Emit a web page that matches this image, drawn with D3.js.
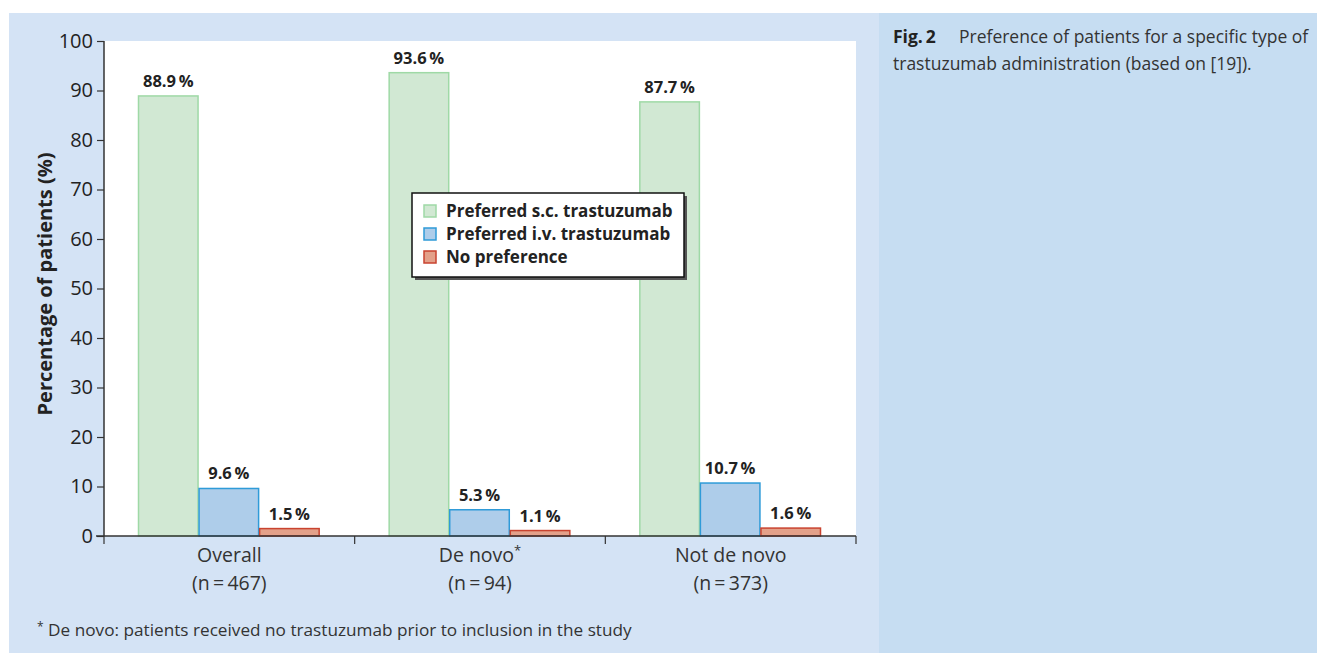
<!DOCTYPE html>
<html>
<head>
    <title>Preference of patients for trastuzumab administration</title>
    <script src="https://d3js.org/d3.v7.min.js"></script>
    <style>
        body {
            margin: 0;
            overflow: hidden;
            background: #fff;
        }
        text {
            font-family: "Open Sans", "Noto Sans", sans-serif;
        }
    </style>
</head>
<body>
    <div id="viz"></div>
    <script>
        // Data
        const categories = ['Overall', 'De novo', 'Not de novo'];
        const sampleSizes = ['(n\u2009=\u2009467)', '(n\u2009=\u200994)', '(n\u2009=\u2009373)'];
        const seriesNames = ['Preferred s.c. trastuzumab', 'Preferred i.v. trastuzumab', 'No preference'];
        const scValues = [88.9, 93.6, 87.7];
        const ivValues = [9.6, 5.3, 10.7];
        const noPrefValues = [1.5, 1.1, 1.6];
        const yTicks = [0, 10, 20, 30, 40, 50, 60, 70, 80, 90, 100];

        const fills = ['#d1e8d3', '#aecdea', '#e3a18a'];
        const strokes = ['#9fd9a6', '#2f9bd8', '#c9432f'];

        const width = 1317, height = 653;
        const svg = d3.select('#viz').append('svg')
            .attr('width', width)
            .attr('height', height);

        // Background panels
        svg.append('rect').attr('x', 879).attr('y', 13).attr('width', width - 879).attr('height', height - 13)
            .attr('fill', '#c6ddf2');
        svg.append('rect').attr('x', 9).attr('y', 13).attr('width', 870).attr('height', height - 13)
            .attr('fill', '#d4e3f5');

        const plot = { left: 104, right: 856, top: 41, bottom: 536 };

        // White plotting area
        svg.append('rect')
            .attr('x', plot.left).attr('y', plot.top)
            .attr('width', plot.right - plot.left).attr('height', plot.bottom - plot.top)
            .attr('fill', '#fff');

        const x0 = d3.scaleBand().domain(categories).range([plot.left, plot.right]).padding(0);
        const x1 = d3.scaleBand().domain(seriesNames)
            .range([34, x0.bandwidth() - 35]).padding(0);
        const y = d3.scaleLinear().domain([0, 100]).range([plot.bottom, plot.top]);

        const rows = categories.map((c, i) => ({
            cat: c,
            values: [scValues[i], ivValues[i], noPrefValues[i]]
        }));

        const groups = svg.append('g').selectAll('g')
            .data(rows)
            .enter().append('g')
            .attr('transform', d => `translate(${x0(d.cat)},0)`);

        groups.selectAll('rect')
            .data(d => d.values.map((v, k) => ({ key: seriesNames[k], k: k, v: v })))
            .enter().append('rect')
            .attr('x', d => x1(d.key) + 0.5)
            .attr('y', d => y(d.v))
            .attr('width', x1.bandwidth() - 1)
            .attr('height', d => y(0) - y(d.v))
            .attr('fill', d => fills[d.k])
            .attr('stroke', d => strokes[d.k])
            .attr('stroke-width', 1.5);

        groups.selectAll('text.val')
            .data(d => d.values.map((v, k) => ({ key: seriesNames[k], v: v })))
            .enter().append('text')
            .attr('class', 'val')
            .attr('x', d => x1(d.key) + x1.bandwidth() / 2)
            .attr('y', d => y(d.v) - 9)
            .attr('text-anchor', 'middle')
            .attr('font-size', 16.5)
            .attr('font-weight', 'bold')
            .attr('fill', '#222')
            .text(d => d.v.toFixed(1) + '\u2009%');

        // Y axis
        const yAxis = svg.append('g')
            .attr('transform', `translate(${plot.left},0)`)
            .call(d3.axisLeft(y).tickValues(yTicks).tickSize(7).tickPadding(4));
        yAxis.select('.domain').attr('stroke', '#333').attr('stroke-width', 1.5)
            .attr('d', `M0,${plot.top}V${plot.bottom}`);
        yAxis.selectAll('.tick line').attr('stroke', '#333').attr('stroke-width', 1.2);
        yAxis.selectAll('.tick text').attr('font-size', 20).attr('fill', '#222');

        // X axis with ticks at band boundaries
        const xAxis = svg.append('g').attr('transform', `translate(0,${plot.bottom})`);
        xAxis.append('line')
            .attr('x1', plot.left - 8).attr('x2', plot.right)
            .attr('stroke', '#333').attr('stroke-width', 1.5);
        const bounds = categories.map(c => x0(c)).concat([plot.right]);
        xAxis.selectAll('line.tk')
            .data(bounds)
            .enter().append('line')
            .attr('class', 'tk')
            .attr('x1', d => d).attr('x2', d => d)
            .attr('y1', 0).attr('y2', 8)
            .attr('stroke', '#333').attr('stroke-width', 1.2);

        const xl = xAxis.selectAll('g.lab')
            .data(categories)
            .enter().append('g')
            .attr('class', 'lab')
            .attr('transform', c => `translate(${x0(c) + x0.bandwidth() / 2},0)`);
        xl.append('text')
            .attr('y', 26)
            .attr('text-anchor', 'middle')
            .attr('font-size', 19.5)
            .attr('fill', '#333')
            .text(c => c)
            .filter(c => c === 'De novo')
            .append('tspan')
            .attr('dy', -7).attr('font-size', 13)
            .text('*');
        xl.append('text')
            .attr('y', 54)
            .attr('text-anchor', 'middle')
            .attr('font-size', 19.5)
            .attr('fill', '#333')
            .text((c, i) => sampleSizes[i]);

        // Y axis title
        svg.append('text')
            .attr('transform', 'translate(52,284) rotate(-90)')
            .attr('text-anchor', 'middle')
            .attr('font-size', 20)
            .attr('font-weight', 'bold')
            .attr('fill', '#222')
            .text('Percentage of patients (%)');

        // Legend
        const lg = svg.append('g').attr('transform', 'translate(412,193)');
        lg.append('rect').attr('x', 3).attr('y', 3).attr('width', 272).attr('height', 84).attr('fill', '#555');
        lg.append('rect').attr('width', 272).attr('height', 84)
            .attr('fill', '#fff').attr('stroke', '#111').attr('stroke-width', 1.5);
        const items = lg.selectAll('g.item')
            .data(seriesNames)
            .enter().append('g')
            .attr('class', 'item')
            .attr('transform', (d, i) => `translate(12,${12 + i * 23})`);
        items.append('rect')
            .attr('width', 12).attr('height', 12)
            .attr('fill', (d, i) => fills[i])
            .attr('stroke', (d, i) => strokes[i])
            .attr('stroke-width', 1.5);
        items.append('text')
            .attr('x', 22).attr('y', 12)
            .attr('font-size', 17)
            .attr('font-weight', 'bold')
            .attr('fill', '#222')
            .text(d => d);

        // Footnote
        svg.append('text')
            .attr('x', 37).attr('y', 636)
            .attr('font-size', 17.2)
            .attr('fill', '#333')
            .html('<tspan font-size="12" dy="-5">*</tspan><tspan dy="5"> De novo: patients received no trastuzumab prior to inclusion in the study</tspan>');

        // Caption
        const cap = svg.append('text')
            .attr('x', 893).attr('y', 43)
            .attr('font-size', 17.5)
            .attr('fill', '#333');
        cap.append('tspan').attr('font-weight', 'bold').attr('fill', '#222').text('Fig.\u20092');
        cap.append('tspan').attr('x', 959).text('Preference of patients for a specific type of');
        svg.append('text')
            .attr('x', 893).attr('y', 70)
            .attr('font-size', 17.5)
            .attr('fill', '#333')
            .text('trastuzumab administration (based on [19]).');
    </script>
</body>
</html>
